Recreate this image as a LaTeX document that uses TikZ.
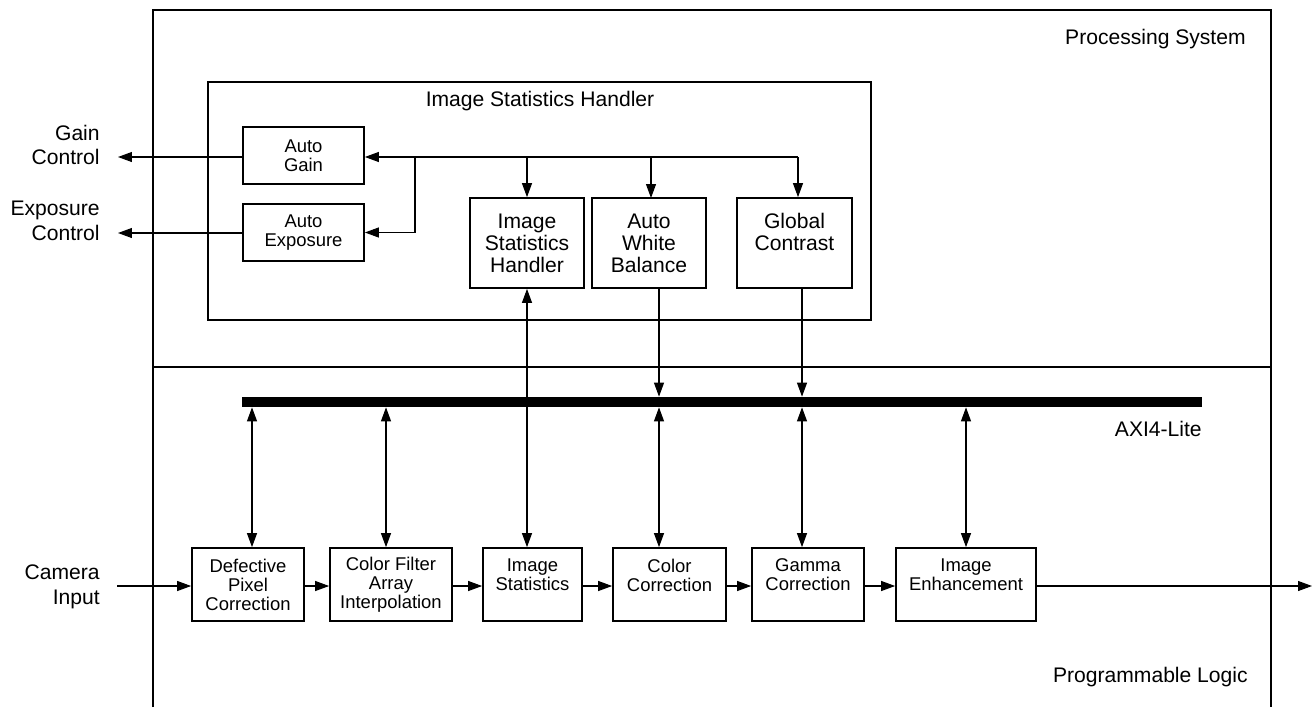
\documentclass[tikz,border=0pt]{standalone}
\usepackage{fontspec}
\setmainfont{Liberation Sans}
\usetikzlibrary{arrows.meta}

\begin{document}
\begin{tikzpicture}[x=0.02cm, y=-0.02cm,
  frame/.style={line width=1pt},
  conn/.style={line width=0.6pt, >={Triangle[length=2.8mm,width=2mm]}},
  blk/.style={draw, line width=1pt, align=center, inner sep=1pt},
  stage/.style={blk, minimum height=1.46cm, font=\fontsize{10.5}{10.8}\selectfont},
  tool/.style={blk, minimum height=1.8cm, font=\fontsize{12}{12.6}\selectfont},
  auto/.style={blk, minimum width=2.42cm, minimum height=1.14cm, font=\fontsize{10.5}{10.8}\selectfont},
  lbl/.style={align=right, anchor=east, inner sep=0pt, font=\fontsize{12}{14}\selectfont},
  tag/.style={anchor=east, inner sep=0pt, font=\fontsize{12}{14}\selectfont}]
  \useasboundingbox (0,0) rectangle (1312,707);

  % Processing System / Programmable Logic
  \draw[frame] (153,707) -- (153,10) -- (1271,10) -- (1271,707);
  \draw[frame] (153,367) -- (1271,367);
  \node[tag] (pslbl) at (1246,39) {Processing System};
  \node[tag] (pllbl) at (1248,677) {Programmable Logic};

  % Image Statistics Handler frame
  \draw[frame] (208,82) rectangle (871,320);
  \node[font=\fontsize{12}{14}\selectfont] (ishlbl) at (540,101) {Image Statistics Handler};

  % Handler blocks
  \node[auto] (ag) at (303.5,155.5) {Auto\\Gain};
  \node[auto] (ae) at (303.5,232.5) {Auto\\Exposure};
  \node[tool, minimum width=2.28cm] (ish) at (527,243) {Image\\Statistics\\Handler};
  \node[tool, minimum width=2.28cm] (awb) at (649,243) {Auto\\White\\Balance};
  \node[tool, minimum width=2.3cm] (gc) at (794.5,243) {Global\\Contrast\\\mbox{}};

  % Outputs of the handler
  \node[lbl] (gainlbl) at (100,145) {Gain\\Control};
  \node[lbl] (explbl) at (100,221) {Exposure\\Control};
  \coordinate (gainend) at (118,157);
  \coordinate (expend) at (118,233);
  \draw[conn,->] (ag.west |- gainend) -- (gainend);
  \draw[conn,->] (ae.west |- expend) -- (expend);

  % Feedback between handler blocks
  \coordinate (feed) at (798,157);
  \coordinate (split) at (415,157);
  \draw[conn,->] (feed) -- (ag.east |- feed);
  \draw[conn,->] (split) |- (ae.east);
  \draw[conn,->] (ish.north |- feed) -- (ish.north);
  \draw[conn,->] (651,157) -- (651,198);
  \draw[conn,->] (feed) -- (feed |- gc.north);

  % AXI4-Lite bus
  \node[fill, inner sep=0pt, minimum width=19.2cm, minimum height=0.2cm] (bus) at (722,402) {};
  \node[tag] (buslbl) at (1202,429) {AXI4-Lite};

  % Pipeline stages
  \node[stage, minimum width=2.24cm] (dpc) at (248,584.5) {Defective\\Pixel\\Correction};
  \node[stage, minimum width=2.44cm] (cfa) at (391,584.5) {Color Filter\\Array\\Interpolation};
  \node[stage, minimum width=1.98cm] (is) at (532.5,584.5) {Image\\Statistics\\\mbox{}};
  \node[stage, minimum width=2.26cm] (cc) at (669.5,584.5) {Color\\Correction\\\mbox{}};
  \node[stage, minimum width=2.24cm] (gac) at (808,584.5) {Gamma\\Correction\\\mbox{}};
  \node[stage, minimum width=2.8cm] (ie) at (966,584.5) {Image\\Enhancement\\\mbox{}};

  \node[lbl] (camlbl) at (100,587) {Camera\\Input};
  \coordinate (camin) at (117,586);
  \coordinate (camout) at (1312,586);
  \draw[conn,->] (camin) -- (camin -| dpc.west);
  \draw[conn,->] (dpc.east |- camin) -- (camin -| cfa.west);
  \draw[conn,->] (cfa.east |- camin) -- (camin -| is.west);
  \draw[conn,->] (is.east |- camin) -- (camin -| cc.west);
  \draw[conn,->] (cc.east |- camin) -- (camin -| gac.west);
  \draw[conn,->] (gac.east |- camin) -- (camin -| ie.west);
  \draw[conn,->] (ie.east |- camin) -- (camout);

  % Bus taps
  \foreach \x/\n in {252/dpc, 386/cfa, 659/cc, 802/gac, 966/ie} {
    \coordinate (tap-\n) at (\x,0);
    \draw[conn,<->] (bus.south -| tap-\n) -- (\n.north -| tap-\n);
  }
  \draw[conn,<->] (ish.south) -- (ish.south |- is.north);
  \draw[conn,->] (awb.south -| tap-cc) -- (bus.north -| tap-cc);
  \draw[conn,->] (gc.south -| tap-gac) -- (bus.north -| tap-gac);
\end{tikzpicture}
\end{document}
